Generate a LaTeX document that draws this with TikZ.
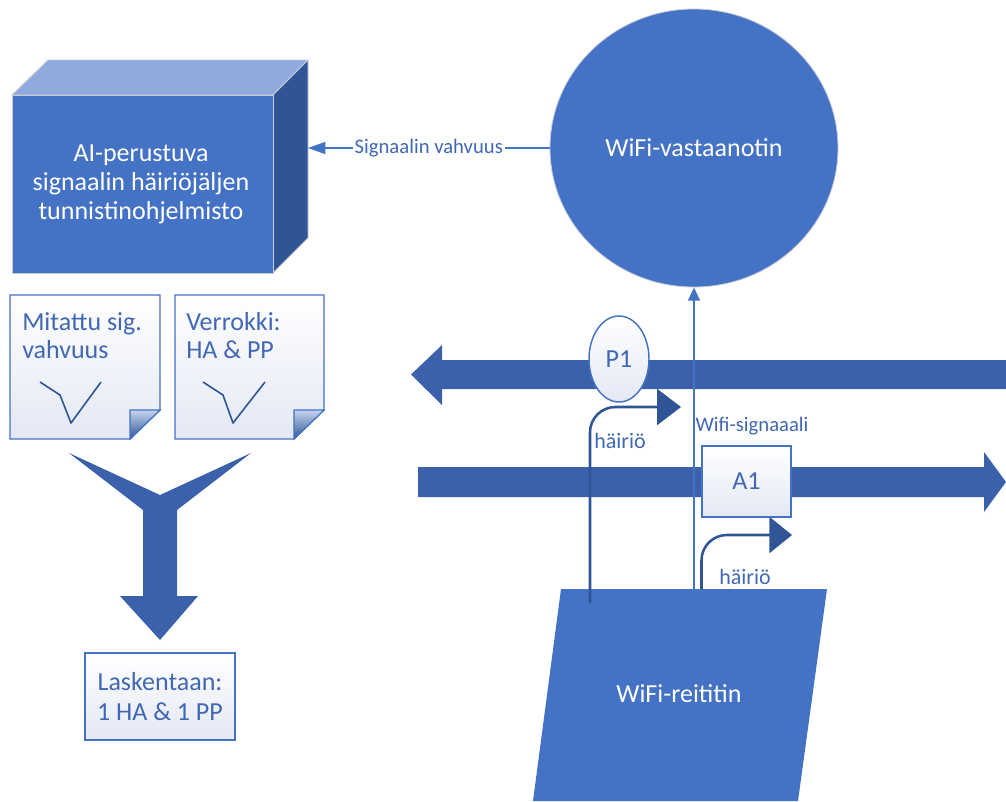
\documentclass[tikz,border=0pt]{standalone}
\usepackage{fontspec}
\setmainfont{Carlito}
\usetikzlibrary{arrows.meta,shapes.geometric}
\definecolor{mainblue}{HTML}{4472C4}
\definecolor{arrowblue}{HTML}{3B61AB}
\definecolor{cubetop}{HTML}{8FAADC}
\definecolor{cubeside}{HTML}{2F5597}
\definecolor{txtblue}{HTML}{4068B4}
\definecolor{notefill}{HTML}{E3E8F4}
\definecolor{bentcol}{HTML}{2F5597}
\definecolor{edgegray}{HTML}{C8CCD6}
\begin{document}
\begin{tikzpicture}[x=0.75pt,y=-0.75pt,
  bigfont/.style={font=\fontsize{19.5}{21.5}\selectfont},
  smallfont/.style={font=\fontsize{15.5}{18}\selectfont},
  midfont/.style={font=\fontsize{16.5}{19}\selectfont},
  whitetext/.style={text=white, bigfont, align=center, inner sep=0pt},
  bluetext/.style={text=txtblue},
  notebox/.style={draw=mainblue, line width=1.1pt, top color=white, bottom color=notefill},
  fold/.style={shading angle=45, top color=cubetop!50!white, bottom color=cubeside, draw=mainblue, line width=0.8pt},
  bigarrow/.style={fill=arrowblue},
  bentline/.style={draw=bentcol, line width=1.9pt, rounded corners=19pt},
  signal/.style={draw=mainblue, line width=1.2pt},
  lightbox/.style={draw=mainblue, line width=1.1pt, top color=white, bottom color=notefill},
  vmark/.style={draw=bentcol, line width=1.2pt, line join=round}
]
\useasboundingbox (0,0) rectangle (1006,801);

% ---------- cube ----------
\fill[cubetop, draw=edgegray, line width=0.6pt] (12,95) -- (48,60) -- (308,60) -- (273,95) -- cycle;
\fill[cubeside, draw=edgegray, line width=0.6pt] (273,95) -- (308,60) -- (308,238) -- (273,273) -- cycle;
\fill[mainblue, draw=edgegray, line width=0.6pt] (12,95) rectangle (273,273);
\node[whitetext, font=\fontsize{19.5}{21.75}\selectfont] (cube) at (141,184) {AI-perustuva\\signaalin häiriöjäljen\\tunnistinohjelmisto};
\coordinate (cubeside) at (308,148);

% ---------- receiver ----------
\node[ellipse, fill=mainblue, draw=edgegray, line width=0.6pt, inner sep=0pt,
      minimum width=216pt, minimum height=208.5pt, text=white, bigfont] (recv) at (694,148) {WiFi-vastaanotin};

\draw[signal, -{Triangle[length=13pt,width=9pt]}] (recv.west) --
  node[fill=white, smallfont, text=txtblue, inner sep=1.5pt] (sigl) {Signaalin vahvuus} (cubeside);

% ---------- notes ----------
\draw[notebox] (10,295) -- (160,295) -- (160,410) -- (130,439) -- (10,439) -- cycle;
\draw[fold] (130,410) -- (160,410) -- (130,439) -- cycle;
\draw[vmark] (40,382) -- (60,395) -- (71,423) -- (101,382);
\node[anchor=north west, inner sep=0pt, bluetext, align=left, font=\fontsize{19.5}{21.5}\selectfont] (note1) at (22,312) {Mitattu sig.\\vahvuus};

\draw[notebox] (175,295) -- (324,295) -- (324,410) -- (294,439) -- (175,439) -- cycle;
\draw[fold] (294,410) -- (324,410) -- (294,439) -- cycle;
\draw[vmark] (203,382) -- (223,395) -- (233,423) -- (265,382);
\node[anchor=north west, inner sep=0pt, bluetext, align=left, font=\fontsize{19.5}{21.5}\selectfont] (note2) at (186,312) {Verrokki:\\HA \& PP};

% ---------- merge arrow ----------
\fill[arrowblue] (69,453) -- (160,495) -- (251,453) -- (177,510) -- (177,596) -- (198,596)
  -- (160,640) -- (120,596) -- (143,596) -- (143,510) -- cycle;

\node[lightbox, minimum width=112.5pt, minimum height=65.25pt, text=txtblue, align=center,
      font=\fontsize{19.5}{22.5}\selectfont] (calc) at (160,696.5) {Laskentaan:\\1 HA \& 1 PP};

% ---------- big arrows ----------
\fill[bigarrow] (411,374.5) -- (442,345) -- (442,360) -- (1006,360) -- (1006,389) -- (442,389) -- (442,405) -- cycle;
\fill[bigarrow] (418,467) -- (984,467) -- (984,452) -- (1006,482) -- (984,512) -- (984,497) -- (418,497) -- cycle;

% ---------- router ----------
\fill[mainblue] (561,589) -- (827,589) -- (798,801) -- (533,801) -- cycle;
\node[whitetext] (router) at (679,694) {WiFi-reititin};

\coordinate (b1s) at (590,603);
\coordinate (b1e) at (681,407);
\coordinate (b2s) at (701.5,589);
\coordinate (b2e) at (792,535);
\coordinate (wifis) at (694,589);

\draw[signal, -{Triangle[length=10pt,width=9pt]}] (wifis) -- (recv.south);
\draw[bentline, -{Triangle[length=18pt,width=27pt]}] (b1s) |- (b1e);
\draw[bentline, -{Triangle[length=17pt,width=27pt]}] (b2s) |- (b2e);

\node[ellipse, lightbox, minimum width=45pt, minimum height=64.5pt, inner sep=0pt, text=txtblue, bigfont] (p1) at (619,359) {P1};
\node[lightbox, minimum width=66.75pt, minimum height=53.25pt, inner sep=0pt, text=txtblue, bigfont] (a1) at (746.5,481.5) {A1};

\node[anchor=base, inner sep=0pt, smallfont, text=txtblue] (wlab) at (752,431) {Wifi-signaaali};
\node[anchor=base, inner sep=0pt, midfont, text=txtblue] (h1) at (620,448) {häiriö};
\node[anchor=base, inner sep=0pt, midfont, text=txtblue] (h2) at (745,584) {häiriö};
\end{tikzpicture}
\end{document}
